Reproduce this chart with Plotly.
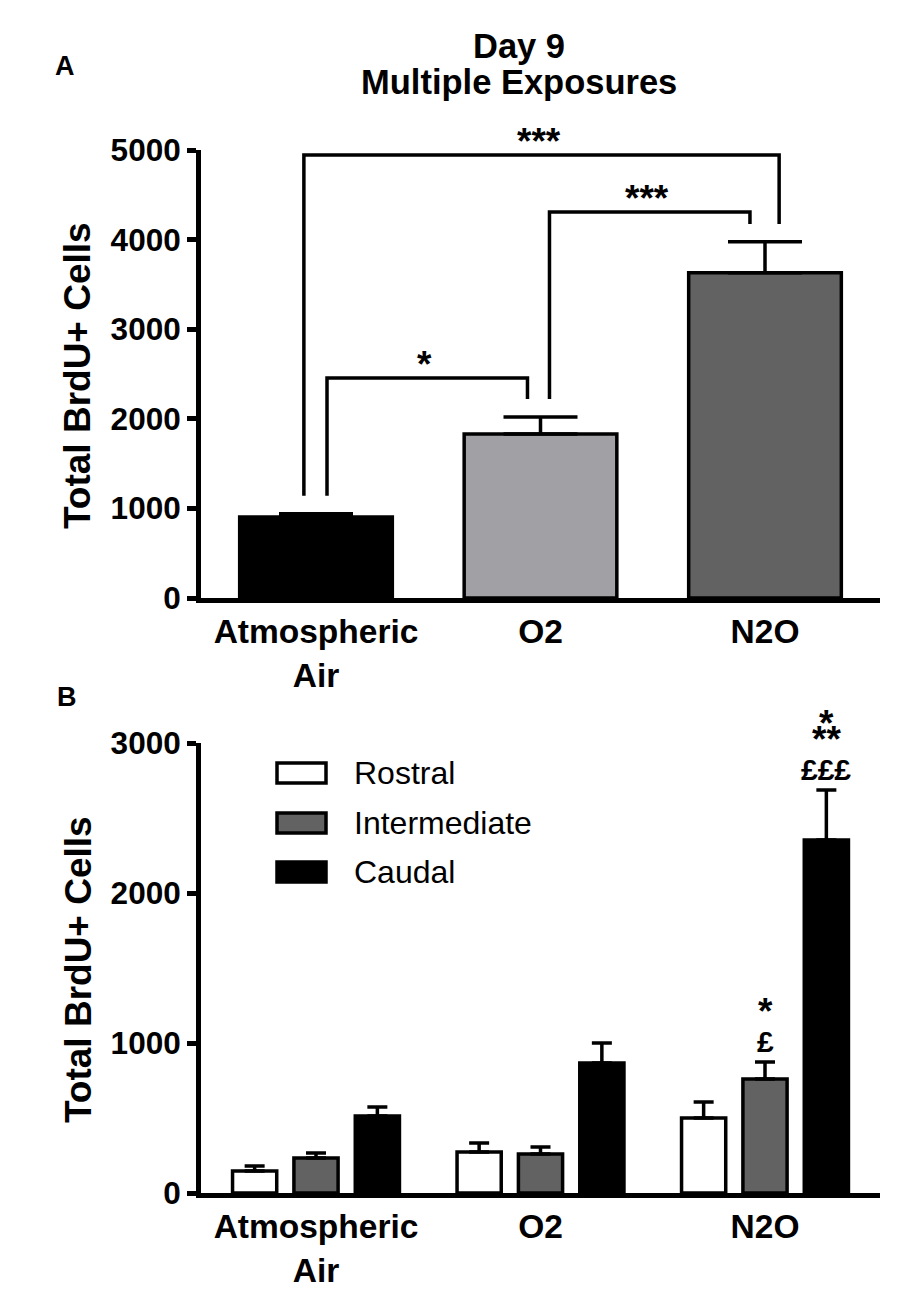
import plotly.graph_objects as go

# The page body adds an 8px margin, so the figure is 8px smaller and all
# pixel positions below are given in screenshot coordinates.
OFF = 8
W, H = 903 - OFF, 1300 - OFF
FONT = "Arial, 'Liberation Sans', sans-serif"

# ---------------- data ----------------
groups = ["Atmospheric<br>Air", "O2", "N2O"]

# Panel A: Day 9, multiple exposures
a_means = [905, 1830, 3630]
a_sem = [35, 190, 345]
a_colors = ["#000000", "#a1a1a5", "#626262"]

# Panel B: by region
b_series = ["Rostral", "Intermediate", "Caudal"]
b_rostral = [147, 273, 500]
b_rostral_sem = [33, 60, 107]
b_inter = [233, 260, 760]
b_inter_sem = [34, 47, 113]
b_caudal = [513, 867, 2353]
b_caudal_sem = [60, 133, 334]
b_colors = ["#ffffff", "#626262", "#000000"]

# significance brackets for panel A: (left group, right group, level, left dx, right dx, label)
a_brackets = [
    (0, 2, 4944, -0.054, 0.063, "***"),
    (1, 2, 4308, 0.040, -0.067, "***"),
    (0, 1, 2455, 0.049, -0.058, "*"),
]
# marks above panel B bars: (group index, series index, lines from top to bottom)
b_marks = [
    (2, 1, ["*", "£"]),
    (2, 2, ["*", "**", "£££"]),
]

a_range = [0, 5000]
b_range = [0, 3000]
xpos = [0, 1, 2]

# ---------------- helpers ----------------
def px_x(p):
    return (p - OFF) / W

def px_y(p):
    return 1 - (p - OFF) / H

XL, XR = 201, 880
XDOM = [px_x(XL), px_x(XR)]
PPU = (765 - 316) / 2.0
X0 = -(316 - XL) / PPU
X1 = X0 + (XR - XL) / PPU
YDOM_A = [px_y(598), px_y(150)]
YDOM_B = [px_y(1193), px_y(743)]

fig = go.Figure()

# Panel A bars
fig.add_trace(go.Bar(
    x=xpos, y=a_means, width=0.68,
    marker=dict(color=a_colors, line=dict(color="black", width=3.5)),
    error_y=dict(type="data", array=a_sem, arrayminus=[0] * 3, symmetric=False,
                 color="black", thickness=3.5, width=37),
    xaxis="x", yaxis="y", showlegend=False,
))

# Panel B bars
b_vals = [b_rostral, b_inter, b_caudal]
b_sems = [b_rostral_sem, b_inter_sem, b_caudal_sem]
for name, vals, sems, col in zip(b_series, b_vals, b_sems, b_colors):
    fig.add_trace(go.Bar(
        x=xpos, y=vals, name=name,
        marker=dict(color=col, line=dict(color="black", width=3.5)),
        error_y=dict(type="data", array=sems, arrayminus=[0] * 3, symmetric=False,
                     color="black", thickness=3.5, width=10),
        xaxis="x2", yaxis="y2", showlegend=False,
    ))

shapes = []
annotations = []

STAR_FONT = dict(family=FONT, size=37, color="black", weight="bold")
POUND_FONT = dict(family=FONT, size=30, color="black", weight="bold")

# brackets
LEG_GAP = 200
for gl, gr, lvl, dxl, dxr, lab in a_brackets:
    xl = xpos[gl] + dxl
    xr = xpos[gr] + dxr
    yl = a_means[gl] + a_sem[gl] + LEG_GAP
    yr = a_means[gr] + a_sem[gr] + LEG_GAP
    shapes.append(dict(
        type="path", xref="x", yref="y",
        path=f"M {xl},{yl} L {xl},{lvl} L {xr},{lvl} L {xr},{yr}",
        line=dict(color="black", width=3.5),
    ))
    annotations.append(dict(
        x=(xl + xr) / 2 - 0.01, y=lvl, xref="x", yref="y", text=lab,
        showarrow=False, xanchor="center", yanchor="bottom", yshift=-9,
        font=STAR_FONT,
    ))

# marks in panel B
slot = (1 - 0.18) / 3
for g, s, lines in b_marks:
    xc = xpos[g] + (s - 1) * slot
    ytop = b_vals[s][g] + b_sems[s][g]
    shift = 2
    prev = None
    for txt in reversed(lines):
        is_star = "*" in txt
        if prev is not None:
            shift += 42 if prev == "pound" else 16
        annotations.append(dict(
            x=xc, y=ytop, xref="x2", yref="y2", text=txt,
            showarrow=False, xanchor="center", yanchor="bottom",
            yshift=shift - (16 if is_star else 0),
            font=STAR_FONT if is_star else POUND_FONT,
        ))
        prev = "star" if is_star else "pound"

# legend B (drawn manually)
leg_y = [773, 823, 872]
for name, col, yy in zip(b_series, b_colors, leg_y):
    shapes.append(dict(
        type="rect", xref="paper", yref="paper",
        x0=px_x(277), x1=px_x(326), y0=px_y(yy + 10), y1=px_y(yy - 10),
        line=dict(color="black", width=3.5), fillcolor=col,
    ))
    annotations.append(dict(
        x=px_x(352), y=px_y(yy), xref="paper", yref="paper", text=name,
        showarrow=False, xanchor="left", yanchor="middle",
        font=dict(family=FONT, size=32, color="black"),
    ))

TITLE_FONT = dict(family=FONT, size=34.5, color="black", weight="bold")
LETTER_FONT = dict(family=FONT, size=27, color="black", weight="bold")
YTITLE_FONT = dict(family=FONT, size=37, color="black", weight="bold")

def pa(x, y, text, font, **kw):
    d = dict(x=px_x(x), y=px_y(y), xref="paper", yref="paper", text=text,
             showarrow=False, xanchor="center", yanchor="middle", font=font)
    d.update(kw)
    return d

annotations += [
    pa(519, 46, "Day 9", TITLE_FONT),
    pa(519, 82, "Multiple Exposures", TITLE_FONT),
    pa(65, 66, "A", LETTER_FONT),
    pa(67, 697, "B", LETTER_FONT),
    pa(78, 376, "Total BrdU+ Cells", YTITLE_FONT, textangle=-90),
    pa(78, 970, "Total BrdU+ Cells", YTITLE_FONT, textangle=-90),
]

xaxis_common = dict(
    range=[X0, X1], tickmode="array", tickvals=xpos, ticktext=groups,
    showline=True, linewidth=5, linecolor="black", ticks="", showgrid=False,
    zeroline=False, automargin=False, fixedrange=True,
    tickfont=dict(family=FONT, size=33.5, color="black", weight="bold"),
)
yaxis_common = dict(
    showline=True, linewidth=5, linecolor="black", ticks="outside", ticklen=9,
    tickwidth=5, tickcolor="black", showgrid=False, zeroline=False,
    automargin=False, dtick=1000,
    tickfont=dict(family=FONT, size=31.5, color="black", weight="bold"),
)

fig.update_layout(
    width=W, height=H,
    margin=dict(l=0, r=0, t=0, b=0),
    paper_bgcolor="white", plot_bgcolor="white",
    barmode="group", bargap=0.18, bargroupgap=0.28,
    xaxis=dict(domain=XDOM, anchor="y", **xaxis_common),
    yaxis=dict(domain=YDOM_A, anchor="x", range=a_range, **yaxis_common),
    xaxis2=dict(domain=XDOM, anchor="y2", **xaxis_common),
    yaxis2=dict(domain=YDOM_B, anchor="x2", range=b_range, **yaxis_common),
    shapes=shapes, annotations=annotations, showlegend=False,
)

fig.write_html("out.html")
